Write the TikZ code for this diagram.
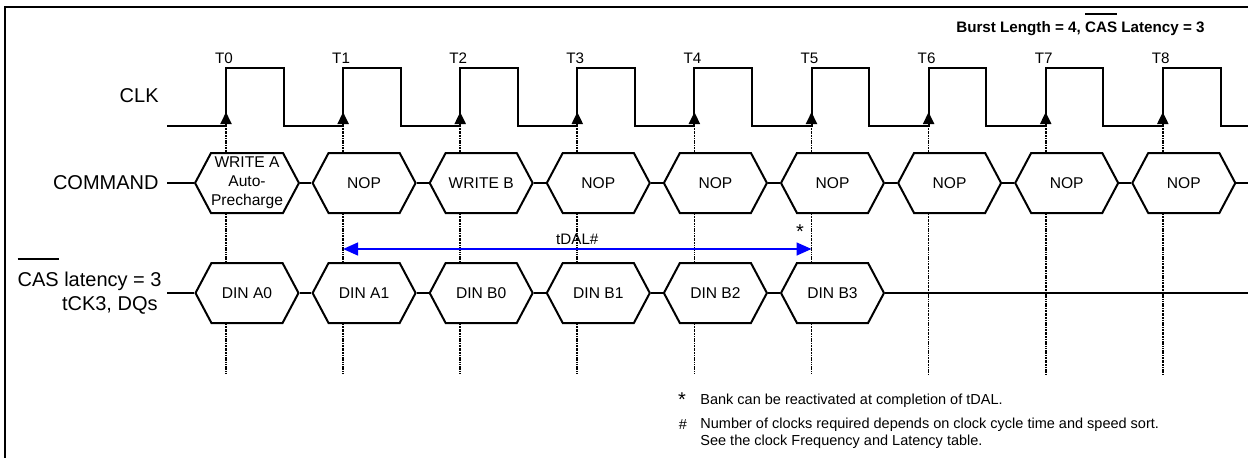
\documentclass[tikz,border=0pt]{standalone}
\usepackage{fontspec}
\setmainfont{Liberation Sans}
\usetikzlibrary{positioning, arrows.meta, shapes.symbols}

\newbox\ovlbox
\newcommand{\ovl}[2][0.5em]{\setbox\ovlbox\hbox{#2}\rlap{\smash{\rule[\dimexpr\ht\ovlbox+#1\relax]{\wd\ovlbox}{0.9pt}}}#2}
\newcommand{\sigfont}{\fontsize{10}{12.2}\selectfont}
\newcommand{\cellfont}{\fontsize{7.8}{9.5}\selectfont}
\newcommand{\tickfont}{\fontsize{7.6}{9}\selectfont}
\newcommand{\notefont}{\fontsize{7.25}{8.5}\selectfont}

\tikzset{
  wave/.style={line width=1pt},
  rise/.style={line width=1pt, -{Triangle[length=6pt,width=5.5pt]}},
  guide/.style={line width=0.85pt, dash pattern=on 0.7pt off 0.5pt on 0.7pt off 0.5pt on 1.8pt off 0.5pt},
  bus/.style={line width=1pt},
  hexcell/.style={draw, line width=1pt, signal, signal to=east and west, signal pointer angle=124,
    minimum width=51.5pt, minimum height=30pt, inner sep=0pt, align=center, font=\cellfont},
  sig/.style={font=\sigfont, inner sep=4pt, anchor=east, align=right},
  tick/.style={font=\tickfont, inner sep=0pt},
  note/.style={font=\notefont, inner sep=0pt},
  dal/.style={line width=0.8pt, blue, {Triangle[length=7.5pt,width=6.5pt]}-{Triangle[length=7.5pt,width=6.5pt]}}
}

\begin{document}
\begin{tikzpicture}[x=0.5pt, y=-0.5pt, node distance=58.55pt]
\useasboundingbox (0,0) rectangle (1248,457);

% frame
\draw[line width=1pt] (1252,7) -- (5,7) -- (5,460);
\node[tick, font=\tickfont\bfseries, anchor=base east] (burst) at (1205,32) {Burst Length = 4, \ovl[0.45em]{CAS} Latency = 3};

% clock labels and rising edges
\node[tick] (t0) at (224,58) {T0};
\node[tick, right of=t0] (t1) {T1};
\node[tick, right of=t1] (t2) {T2};
\node[tick, right of=t2] (t3) {T3};
\node[tick, right of=t3] (t4) {T4};
\node[tick, right of=t4] (t5) {T5};
\node[tick, right of=t5] (t6) {T6};
\node[tick, right of=t6] (t7) {T7};
\node[tick, right of=t7] (t8) {T8};

\coordinate (e0) at (226,126);
\coordinate[right of=e0] (e1);
\coordinate[right of=e1] (e2);
\coordinate[right of=e2] (e3);
\coordinate[right of=e3] (e4);
\coordinate[right of=e4] (e5);
\coordinate[right of=e5] (e6);
\coordinate[right of=e6] (e7);
\coordinate[right of=e7] (e8);
\coordinate (clkstart) at (167,126);
\coordinate (clkend) at (1252,126);

\node[sig] (clk) at (167,96) {CLK};
\draw[wave] (clkstart) -- (e0)
  -- ++(0,-58) -- ++(57.5,0) |- (e1)
  -- ++(0,-58) -- ++(57.5,0) |- (e2)
  -- ++(0,-58) -- ++(57.5,0) |- (e3)
  -- ++(0,-58) -- ++(57.5,0) |- (e4)
  -- ++(0,-58) -- ++(57.5,0) |- (e5)
  -- ++(0,-58) -- ++(57.5,0) |- (e6)
  -- ++(0,-58) -- ++(57.5,0) |- (e7)
  -- ++(0,-58) -- ++(57.5,0) |- (e8)
  -- ++(0,-58) -- ++(58,0) -- ++(0,58) -- (clkend);
\draw[rise] (e0) -- ++(0,-14);
\draw[rise] (e1) -- ++(0,-14);
\draw[rise] (e2) -- ++(0,-14);
\draw[rise] (e3) -- ++(0,-14);
\draw[rise] (e4) -- ++(0,-14);
\draw[rise] (e5) -- ++(0,-14);
\draw[rise] (e6) -- ++(0,-14);
\draw[rise] (e7) -- ++(0,-14);
\draw[rise] (e8) -- ++(0,-14);

% command row
\node[sig] (cmd) at (167,183) {COMMAND};
\node[hexcell] (c0) at (247,183) {WRITE A\\Auto-\\Precharge};
\node[hexcell, right of=c0] (c1) {NOP};
\node[hexcell, right of=c1] (c2) {WRITE B};
\node[hexcell, right of=c2] (c3) {NOP};
\node[hexcell, right of=c3] (c4) {NOP};
\node[hexcell, right of=c4] (c5) {NOP};
\node[hexcell, right of=c5] (c6) {NOP};
\node[hexcell, right of=c6] (c7) {NOP};
\node[hexcell, right of=c7] (c8) {NOP};
\coordinate (cmdend) at (1252,183);
\draw[bus] (cmd.east) -- (c0.west) (c0.east) -- (c1.west) (c1.east) -- (c2.west)
  (c2.east) -- (c3.west) (c3.east) -- (c4.west) (c4.east) -- (c5.west)
  (c5.east) -- (c6.west) (c6.east) -- (c7.west) (c7.east) -- (c8.west) (c8.east) -- (cmdend);

% data row
\node[sig, inner xsep=2.5pt] (dq) at (167,293) {\ovl[0.6em]{CAS} latency = 3\\tCK3, DQs\kern2pt};
\node[hexcell] (d0) at (247,293) {DIN A0};
\node[hexcell, right of=d0] (d1) {DIN A1};
\node[hexcell, right of=d1] (d2) {DIN B0};
\node[hexcell, right of=d2] (d3) {DIN B1};
\node[hexcell, right of=d3] (d4) {DIN B2};
\node[hexcell, right of=d4] (d5) {DIN B3};
\coordinate (dqend) at (1252,293);
\draw[bus] (dq.east) -- (d0.west) (d0.east) -- (d1.west) (d1.east) -- (d2.west)
  (d2.east) -- (d3.west) (d3.east) -- (d4.west) (d4.east) -- (d5.west) (d5.east) -- (dqend);

% clock edge guides
\draw[guide] (e0) -- (e0 |- c0.north) (e0 |- c0.south) -- (e0 |- d0.north) (e0 |- d0.south) -- ++(0,50);
\draw[guide] (e1) -- (e1 |- c1.north) (e1 |- c1.south) -- (e1 |- d1.north) (e1 |- d1.south) -- ++(0,50);
\draw[guide] (e2) -- (e2 |- c2.north) (e2 |- c2.south) -- (e2 |- d2.north) (e2 |- d2.south) -- ++(0,50);
\draw[guide] (e3) -- (e3 |- c3.north) (e3 |- c3.south) -- (e3 |- d3.north) (e3 |- d3.south) -- ++(0,50);
\draw[guide] (e4) -- (e4 |- c4.north) (e4 |- c4.south) -- (e4 |- d4.north) (e4 |- d4.south) -- ++(0,50);
\draw[guide] (e5) -- (e5 |- c5.north) (e5 |- c5.south) -- (e5 |- d5.north) (e5 |- d5.south) -- ++(0,50);
\draw[guide] (e6) -- (e6 |- c6.north) (e6 |- c6.south) -- ++(0,160);
\draw[guide] (e7) -- (e7 |- c7.north) (e7 |- c7.south) -- ++(0,160);
\draw[guide] (e8) -- (e8 |- c8.north) (e8 |- c8.south) -- ++(0,160);

% tDAL
\coordinate (dalL) at (e1 |- 0,249);
\coordinate (dalR) at (e5 |- dalL);
\draw[dal] (dalL) -- node[tick, text=black, above=2pt] (dallbl) {tDAL\#} (dalR);
\node[tick, font=\sigfont, anchor=base] (star) at (800,238) {*};

% notes
\node[note, font=\sigfont, anchor=base] (m1) at (682,406) {*};
\node[note, anchor=base west] (n1) at (700,404) {Bank can be reactivated at completion of tDAL.};
\node[note, anchor=base] (m2) at (683,429) {\#};
\node[note, anchor=base west] (n2) at (700,428) {Number of clocks required depends on clock cycle time and speed sort.};
\node[note, anchor=base west] (n3) at (700,445) {See the clock Frequency and Latency table.};
\end{tikzpicture}
\end{document}
